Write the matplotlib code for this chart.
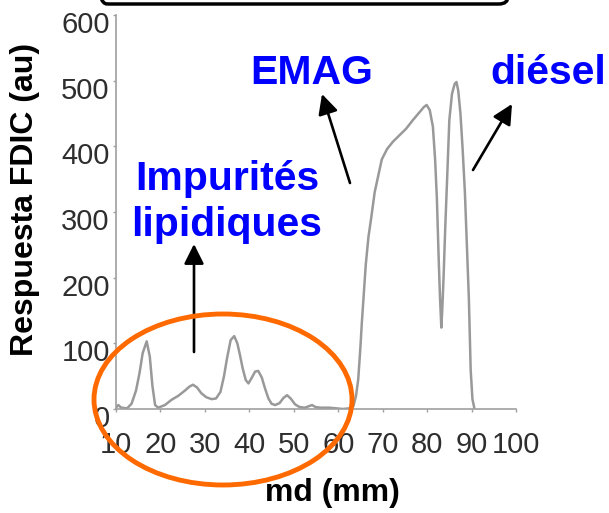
import matplotlib
matplotlib.use("Agg")
import matplotlib.pyplot as plt
import matplotlib.transforms as mtransforms
from matplotlib.patches import Ellipse, FancyArrowPatch, FancyBboxPatch

# chromatogram: migration distance (mm) vs FID response (au)
md = [10.0, 10.5, 11.2, 12.5, 13.5, 14.5, 15.3, 16.0, 16.9, 17.6, 18.2, 18.8, 19.5,
      21.0, 22.5, 24.0, 25.5, 26.5, 27.3, 28.2, 29.2, 30.3, 31.5, 32.5, 33.5, 34.3,
      35.0, 35.8, 36.6, 37.3, 37.9, 38.5, 39.2, 39.8, 40.5, 41.3, 42.0, 42.8, 43.5,
      44.3, 45.0, 45.8, 46.8, 47.7, 48.5, 49.3, 50.3, 51.3, 52.5, 53.3, 54.1, 54.9,
      56.0, 58.0, 59.6, 61.0, 62.5, 63.4, 64.0, 64.5, 65.0, 65.3, 65.7, 66.2, 66.8,
      67.4, 68.2, 69.0, 69.8, 71.0, 72.3, 73.8, 75.3, 76.8, 78.3, 79.3, 79.9, 80.6,
      81.3, 81.8, 82.2, 82.6, 82.9, 83.2, 83.4, 83.7, 84.1, 84.5, 85.0, 85.6, 86.2,
      86.6, 87.0, 87.5, 88.0, 88.5, 89.0, 89.4, 89.8, 90.2, 90.6]
response = [2, 6, 2, 1, 8, 28, 55, 85, 103, 80, 35, 6, 2,
            6, 14, 20, 28, 34, 37, 33, 24, 18, 15, 16, 26, 50,
            78, 105, 111, 100, 82, 62, 44, 39, 47, 57, 58, 48, 32,
            16, 8, 6, 9, 17, 21, 16, 7, 3, 2, 4, 6, 3,
            2, 2, 1, 0, 1, 4, 20, 45, 95, 130, 170, 220, 262,
            290, 330, 355, 380, 396, 407, 417, 427, 440, 452, 460, 463, 455,
            430, 380, 320, 230, 170, 124, 150, 200, 280, 350, 440, 480, 495,
            498, 485, 450, 395, 330, 240, 167, 60, 15, 2]

x_ticks = [10, 20, 30, 40, 50, 60, 70, 80, 90, 100]
y_ticks = [0, 100, 200, 300, 400, 500, 600]

W, H = 609, 513
fig = plt.figure(figsize=(W / 100, H / 100), dpi=100)
plt.rcParams['font.family'] = ['Liberation Sans', 'DejaVu Sans']

ax = fig.add_axes([116 / W, 104 / H, 400 / W, 394 / H])
ax.plot(md, response, color='#999999', lw=1.8, solid_joinstyle='round')
ax.set_xlim(10, 100)
ax.set_ylim(0, 600)
ax.set_xticks(x_ticks)
ax.set_yticks(y_ticks)

for s in ['top', 'right']:
    ax.spines[s].set_visible(False)
for s in ['left', 'bottom']:
    ax.spines[s].set_color('#a0a0a0')
    ax.spines[s].set_linewidth(1.2)

ax.tick_params(axis='both', colors='#a0a0a0', labelcolor='#2e2e2e', labelsize=21,
               length=2.5, width=1)
ax.tick_params(axis='x', pad=13)
ax.tick_params(axis='y', pad=2)

# y labels sit a bit below their ticks in the original
shift = mtransforms.ScaledTranslation(0, -0.07, fig.dpi_scale_trans)
for lab in ax.get_yticklabels():
    lab.set_transform(lab.get_transform() + shift)

ax.set_xlabel('md (mm)', fontsize=23, fontweight='bold')
ax.set_ylabel('Respuesta FDIC (au)', fontsize=23, fontweight='bold')
ax.xaxis.set_label_coords((332 - 116) / 400, (409 - 493) / 394)
ax.yaxis.label.set_verticalalignment('center')
ax.xaxis.label.set_verticalalignment('center')
ax.yaxis.set_label_coords((25 - 116) / 400, (409 - 199) / 394)

tf = fig.transFigure


def fp(x, y):
    # image pixel (from top-left) -> figure fraction
    return (x / W, 1 - y / H)


blue = '#0000ff'
fig.text(*fp(250, 84), 'EMAG', color=blue, fontsize=29.5, fontweight='bold', va='baseline')
fig.text(*fp(490, 84), 'diésel', color=blue, fontsize=29.5, fontweight='bold', va='baseline')
fig.text(*fp(227, 190), 'Impurités', color=blue, fontsize=29.5, fontweight='bold',
         va='baseline', ha='center')
fig.text(*fp(227, 236), 'lipidiques', color=blue, fontsize=29.5, fontweight='bold',
         va='baseline', ha='center')

arrows = [((350, 183), (322, 94)), ((473, 170), (512, 104)), ((194, 352), (194, 244))]
for tail, tip in arrows:
    fig.add_artist(FancyArrowPatch(fp(*tail), fp(*tip), transform=tf,
                                   arrowstyle='-|>,head_length=0.6,head_width=0.3',
                                   mutation_scale=20, lw=1.9, color='black',
                                   shrinkA=0, shrinkB=0))

fig.add_artist(Ellipse(fp(223, 399.5), 258 / W, 171 / H, transform=tf,
                       fill=False, edgecolor='#ff6a00', lw=3.5, clip_on=False))

# bottom edge of a rounded box cut off at the top of the image
fig.add_artist(FancyBboxPatch((98 / W, 1 - 4 / H), 410 / W, 40 / H, transform=tf,
                              boxstyle='round,pad=0,rounding_size=0.015',
                              fill=False, edgecolor='black', lw=2.5, clip_on=False))

fig.savefig('out.png', dpi=100)
